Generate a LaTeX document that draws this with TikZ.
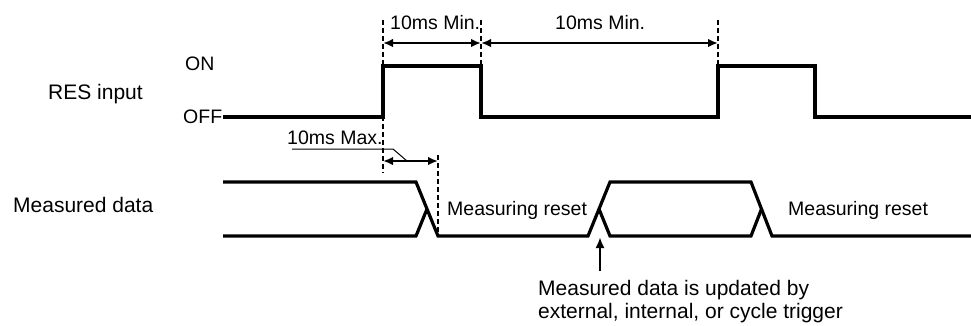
\documentclass[tikz,border=0pt]{standalone}
\usepackage{fontspec}
\setmainfont{Liberation Sans}
\usetikzlibrary{arrows.meta}
\begin{document}
\begin{tikzpicture}[x=1pt,y=-1pt,
  sig/.style={line width=3.2pt,line join=miter},
  guide/.style={line width=1.3pt,dash pattern=on 5pt off 3pt},
  dim/.style={line width=2pt,{Latex[length=10pt,width=8.5pt]}-{Latex[length=10pt,width=8.5pt]}},
  lbl/.style={inner sep=0pt,anchor=base west,font=\fontsize{19.5}{23}\selectfont},
  biglbl/.style={lbl,font=\fontsize{21}{23}\selectfont},
  ]
\useasboundingbox (0,0) rectangle (971,325);
% coordinates
\coordinate (r0) at (223,117);
\coordinate (r1) at (383,117);
\coordinate (r2) at (383,66);
\coordinate (r3) at (481,66);
\coordinate (r4) at (481,117);
\coordinate (r5) at (718,117);
\coordinate (r6) at (718,66);
\coordinate (r7) at (815,66);
\coordinate (r8) at (815,117);
\coordinate (r9) at (971,117);
% RES input signal
\draw[sig] (r0) -- (r1) -- (r2) -- (r3) -- (r4) -- (r5) -- (r6) -- (r7) -- (r8) -- (r9);
% Measured data signal
\draw[sig] (223,182) -- (416,182) -- (438,236) -- (588,236) -- (610,182) -- (751,182) -- (772,236) -- (971,236);
\draw[sig] (223,236) -- (416,236) -- (427,209);
\draw[sig] (599,209) -- (610,236) -- (751,236) -- (761.5,209);
% guide lines
\coordinate (g1t) at (383,20);
\coordinate (g1b) at (383,173);
\coordinate (g2t) at (481,20);
\coordinate (g3t) at (718,20);
\coordinate (g4t) at (438,155);
\coordinate (g4b) at (438,232);
\draw[guide] (g1t) -- (g1b);
\draw[guide] (g2t) -- (r3);
\draw[guide] (g3t) -- (r6);
\draw[guide] (g4t) -- (g4b);
% dimension arrows
\coordinate (d1) at (383,43);
\coordinate (d2) at (481,43);
\coordinate (d3) at (718,43);
\coordinate (m1) at (383,161);
\coordinate (m2) at (438,161);
\draw[dim] (d1) -- (d2);
\draw[dim] (d2) -- (d3);
\draw[dim] (m1) -- (m2);
% labels
\node[lbl] (min1) at (390,29) {10ms Min.};
\node[lbl] (min2) at (555,29) {10ms Min.};
\node[lbl] (max) at (287,144) {10ms Max.};
\coordinate (l1) at (292,149);
\coordinate (l2) at (393,149);
\coordinate (l3) at (407,161);
\draw[line width=1pt] (l1) -- (l2) -- (l3);
\node[biglbl] (res) at (48,99) {RES input};
\node[lbl] (on) at (185,70) {ON};
\node[lbl] (off) at (183,123) {OFF};
\node[biglbl] (md) at (13,212) {Measured data};
\node[lbl] (mr1) at (447,215) {Measuring reset};
\node[lbl] (mr2) at (788,215) {Measuring reset};
\node[biglbl] (n1) at (538,295) {Measured data is updated by};
\node[biglbl] (n2) at (538,318) {external, internal, or cycle trigger};
\coordinate (at) at (600,237);
\coordinate (ab) at (600,271);
\draw[line width=2.2pt,-{Latex[length=11pt,width=9pt]}] (ab) -- (at);
\end{tikzpicture}
\end{document}
